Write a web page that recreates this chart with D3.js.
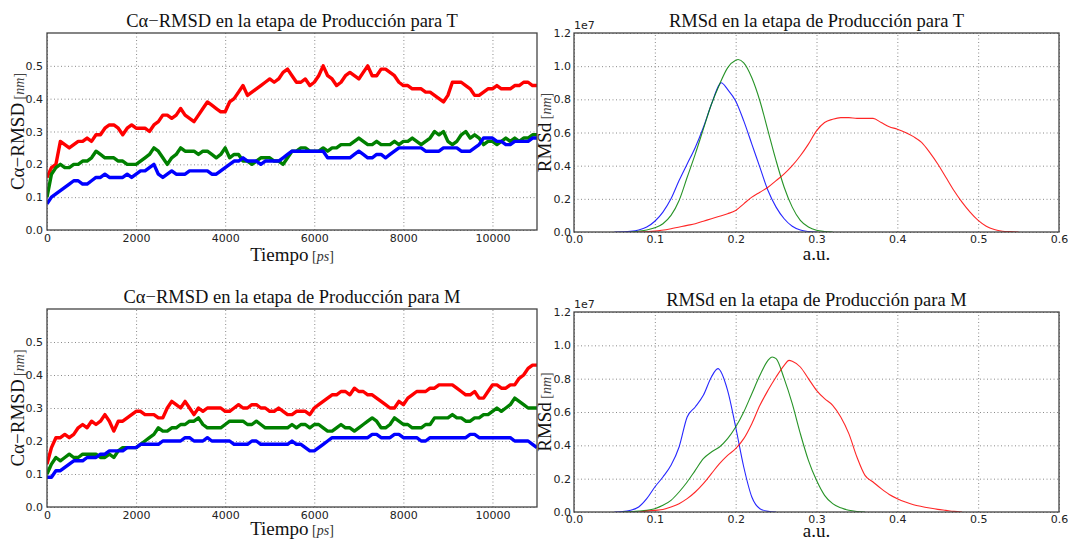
<!DOCTYPE html>
<html><head><meta charset="utf-8">
<script src="https://cdn.jsdelivr.net/npm/d3@7"></script>
<style>body{margin:0;background:#fff}</style>
</head><body><svg id="c" width="1068" height="540"></svg>
<script>
const timeTicks = [0,2000,4000,6000,8000,10000];
const rmsdTicks = [0,0.1,0.2,0.3,0.4,0.5];
const auTicks = [0,0.1,0.2,0.3,0.4,0.5,0.6];
const densTicks = [0,0.2,0.4,0.6,0.8,1.0,1.2];
const time = d3.range(0, 11001, 100);

const T_red = [0.16,0.19,0.20,0.27,0.26,0.25,0.26,0.27,0.27,0.28,
0.27,0.29,0.29,0.31,0.32,0.32,0.31,0.29,0.31,0.32,
0.31,0.31,0.31,0.30,0.32,0.33,0.35,0.35,0.34,0.35,
0.37,0.35,0.34,0.33,0.35,0.37,0.39,0.38,0.37,0.36,
0.36,0.39,0.40,0.42,0.44,0.41,0.42,0.43,0.44,0.45,
0.46,0.45,0.46,0.48,0.49,0.47,0.45,0.45,0.46,0.44,
0.45,0.47,0.50,0.47,0.46,0.44,0.45,0.47,0.48,0.47,
0.46,0.48,0.50,0.47,0.47,0.49,0.49,0.48,0.47,0.45,
0.44,0.44,0.43,0.43,0.43,0.42,0.42,0.41,0.40,0.39,
0.41,0.45,0.45,0.45,0.44,0.43,0.41,0.41,0.42,0.43,
0.43,0.44,0.43,0.43,0.43,0.44,0.44,0.45,0.45,0.44,
0.44];
const T_green = [0.10,0.17,0.19,0.20,0.19,0.19,0.20,0.20,0.21,0.21,
0.22,0.24,0.23,0.22,0.22,0.22,0.21,0.21,0.20,0.20,
0.20,0.21,0.22,0.23,0.25,0.24,0.22,0.20,0.22,0.23,
0.25,0.24,0.24,0.24,0.23,0.24,0.24,0.23,0.22,0.23,
0.25,0.22,0.23,0.23,0.21,0.21,0.20,0.21,0.22,0.22,
0.22,0.21,0.21,0.20,0.22,0.24,0.24,0.25,0.25,0.24,
0.24,0.24,0.25,0.24,0.25,0.25,0.26,0.26,0.26,0.27,
0.28,0.27,0.26,0.26,0.27,0.26,0.26,0.26,0.27,0.26,
0.27,0.27,0.28,0.27,0.26,0.27,0.28,0.30,0.29,0.30,
0.27,0.26,0.27,0.29,0.30,0.28,0.29,0.28,0.26,0.27,
0.27,0.26,0.27,0.28,0.27,0.28,0.27,0.28,0.28,0.29,
0.29];
const T_blue = [0.08,0.10,0.11,0.12,0.13,0.14,0.15,0.15,0.14,0.14,
0.15,0.16,0.16,0.17,0.16,0.16,0.16,0.16,0.17,0.16,
0.17,0.18,0.18,0.19,0.20,0.17,0.16,0.17,0.18,0.17,
0.17,0.17,0.18,0.18,0.18,0.18,0.18,0.17,0.17,0.18,
0.19,0.20,0.21,0.21,0.22,0.21,0.21,0.21,0.20,0.21,
0.21,0.21,0.21,0.22,0.23,0.24,0.24,0.24,0.24,0.24,
0.24,0.24,0.24,0.22,0.22,0.22,0.22,0.22,0.22,0.23,
0.24,0.23,0.22,0.22,0.23,0.23,0.22,0.23,0.24,0.25,
0.25,0.25,0.25,0.25,0.25,0.24,0.24,0.24,0.24,0.25,
0.25,0.25,0.25,0.24,0.24,0.24,0.25,0.26,0.28,0.28,
0.28,0.27,0.27,0.26,0.26,0.27,0.27,0.27,0.27,0.28,
0.28];

const M_red = [0.13,0.18,0.21,0.21,0.22,0.21,0.22,0.24,0.25,0.24,
0.26,0.25,0.26,0.28,0.26,0.23,0.26,0.26,0.27,0.28,
0.29,0.29,0.28,0.28,0.28,0.27,0.27,0.30,0.32,0.31,
0.30,0.32,0.30,0.28,0.30,0.29,0.30,0.30,0.30,0.30,
0.29,0.29,0.30,0.31,0.30,0.30,0.31,0.31,0.30,0.30,
0.29,0.29,0.30,0.29,0.28,0.28,0.29,0.29,0.29,0.28,
0.30,0.31,0.32,0.33,0.34,0.34,0.35,0.35,0.34,0.36,
0.35,0.35,0.34,0.34,0.33,0.32,0.31,0.30,0.30,0.32,
0.31,0.33,0.34,0.35,0.35,0.35,0.36,0.36,0.37,0.37,
0.37,0.37,0.36,0.35,0.34,0.34,0.35,0.33,0.33,0.35,
0.37,0.37,0.36,0.36,0.37,0.37,0.39,0.40,0.42,0.43,
0.43];
const M_green = [0.10,0.13,0.15,0.14,0.15,0.16,0.15,0.15,0.16,0.16,
0.16,0.16,0.15,0.15,0.16,0.15,0.17,0.18,0.18,0.18,
0.18,0.19,0.20,0.21,0.22,0.24,0.23,0.23,0.24,0.24,
0.25,0.25,0.26,0.26,0.27,0.25,0.24,0.24,0.24,0.24,
0.25,0.26,0.26,0.26,0.26,0.25,0.25,0.26,0.25,0.24,
0.24,0.24,0.24,0.24,0.24,0.25,0.24,0.25,0.25,0.24,
0.25,0.25,0.24,0.23,0.23,0.24,0.25,0.24,0.24,0.23,
0.24,0.25,0.26,0.27,0.26,0.24,0.24,0.25,0.27,0.26,
0.25,0.25,0.24,0.24,0.24,0.25,0.25,0.27,0.27,0.27,
0.27,0.28,0.27,0.27,0.26,0.26,0.27,0.27,0.28,0.28,
0.29,0.30,0.29,0.30,0.31,0.33,0.32,0.31,0.30,0.30,
0.30];
const M_blue = [0.09,0.09,0.11,0.11,0.12,0.13,0.14,0.14,0.14,0.15,
0.15,0.15,0.16,0.16,0.17,0.17,0.17,0.17,0.18,0.18,
0.18,0.19,0.19,0.19,0.19,0.19,0.20,0.20,0.20,0.20,
0.20,0.21,0.21,0.20,0.20,0.20,0.21,0.20,0.20,0.20,
0.20,0.20,0.19,0.19,0.19,0.19,0.20,0.20,0.19,0.19,
0.19,0.19,0.19,0.19,0.19,0.20,0.19,0.19,0.18,0.17,
0.17,0.18,0.19,0.20,0.21,0.21,0.21,0.21,0.21,0.21,
0.21,0.21,0.21,0.22,0.22,0.21,0.21,0.21,0.22,0.22,
0.21,0.21,0.21,0.21,0.20,0.20,0.21,0.21,0.21,0.21,
0.21,0.21,0.21,0.21,0.21,0.22,0.22,0.21,0.21,0.21,
0.21,0.21,0.21,0.21,0.21,0.20,0.20,0.20,0.20,0.19,
0.18];

// density curves (values in units of 1e7)
const dT_blue_x = [0.05,0.06,0.07,0.08,0.09,0.10,0.11,0.12,0.13,0.14,0.15,0.16,0.17,0.18,0.182,0.19,0.20,0.21,0.22,0.23,0.24,0.25,0.26,0.27,0.28,0.29,0.30];
const dT_blue_y = [0,0.001,0.004,0.012,0.03,0.065,0.12,0.2,0.31,0.41,0.51,0.63,0.77,0.89,0.90,0.86,0.79,0.67,0.53,0.39,0.25,0.15,0.08,0.035,0.012,0.003,0];
const dT_green_x = [0.07,0.08,0.09,0.10,0.11,0.12,0.13,0.14,0.15,0.16,0.17,0.18,0.19,0.20,0.203,0.21,0.22,0.23,0.24,0.25,0.26,0.27,0.28,0.29,0.30,0.31,0.32];
const dT_green_y = [0,0.005,0.012,0.025,0.05,0.1,0.19,0.33,0.47,0.62,0.77,0.89,0.99,1.035,1.04,1.02,0.93,0.79,0.61,0.43,0.27,0.15,0.07,0.03,0.01,0.003,0];
const dT_red_x = [0.08,0.10,0.12,0.14,0.15,0.16,0.17,0.18,0.19,0.20,0.21,0.22,0.23,0.24,0.25,0.26,0.27,0.28,0.29,0.30,0.31,0.32,0.33,0.34,0.35,0.36,0.37,0.38,0.39,0.40,0.41,0.42,0.43,0.44,0.45,0.46,0.47,0.48,0.49,0.50,0.51,0.52,0.53,0.54,0.55];
const dT_red_y = [0,0.005,0.02,0.04,0.05,0.065,0.08,0.095,0.11,0.13,0.17,0.21,0.24,0.27,0.31,0.35,0.40,0.46,0.53,0.61,0.66,0.68,0.69,0.69,0.685,0.685,0.685,0.66,0.635,0.62,0.60,0.575,0.54,0.48,0.41,0.33,0.25,0.18,0.12,0.07,0.035,0.015,0.005,0.002,0];

const dM_blue_x = [0.05,0.06,0.07,0.08,0.09,0.10,0.11,0.12,0.13,0.14,0.15,0.16,0.17,0.178,0.19,0.20,0.21,0.22,0.23,0.24,0.25];
const dM_blue_y = [0,0.002,0.01,0.03,0.08,0.15,0.21,0.28,0.39,0.57,0.63,0.70,0.81,0.86,0.73,0.51,0.27,0.09,0.02,0.004,0];
const dM_green_x = [0.06,0.08,0.09,0.10,0.11,0.12,0.13,0.14,0.15,0.16,0.17,0.18,0.19,0.20,0.21,0.22,0.23,0.24,0.245,0.25,0.26,0.27,0.28,0.29,0.30,0.31,0.32,0.33,0.34,0.35,0.36];
const dM_green_y = [0,0.005,0.01,0.02,0.04,0.07,0.12,0.18,0.25,0.32,0.36,0.39,0.44,0.51,0.60,0.71,0.82,0.91,0.93,0.92,0.80,0.65,0.47,0.31,0.19,0.10,0.05,0.025,0.01,0.003,0];
const dM_red_x = [0.08,0.10,0.11,0.12,0.13,0.14,0.15,0.16,0.17,0.18,0.19,0.20,0.21,0.22,0.23,0.24,0.25,0.26,0.266,0.27,0.28,0.29,0.30,0.31,0.32,0.33,0.34,0.35,0.36,0.37,0.38,0.39,0.40,0.41,0.42,0.43,0.44,0.45,0.46,0.47,0.48];
const dM_red_y = [0,0.01,0.015,0.03,0.05,0.08,0.12,0.17,0.23,0.29,0.34,0.38,0.44,0.53,0.64,0.73,0.81,0.88,0.91,0.905,0.87,0.80,0.73,0.68,0.64,0.57,0.47,0.33,0.22,0.18,0.14,0.105,0.08,0.06,0.044,0.033,0.024,0.016,0.01,0.004,0];

const colors = {red:"#ff0000", green:"#008000", blue:"#0000ff"};

const svg = d3.select("#c");
const SERIF = "'Liberation Serif','DejaVu Serif',serif";
const SANS = "'DejaVu Sans',sans-serif";

function panel(o) {
  const g = svg.append("g");
  const x = d3.scaleLinear().domain(o.xd).range([o.x0, o.x1]);
  const y = d3.scaleLinear().domain(o.yd).range([o.y1, o.y0]);
  const id = "clip" + Math.round(o.x0) + "_" + Math.round(o.y0);
  svg.append("clipPath").attr("id", id).append("rect")
    .attr("x", o.x0).attr("y", o.y0).attr("width", o.x1 - o.x0).attr("height", o.y1 - o.y0);
  // grid
  const gx = d3.axisBottom(x).tickValues(o.xt).tickSize(-(o.y1 - o.y0)).tickFormat("");
  const gy = d3.axisLeft(y).tickValues(o.yt).tickSize(-(o.x1 - o.x0)).tickFormat("");
  const gg = g.append("g");
  gg.append("g").attr("transform", `translate(0,${o.y1})`).call(gx);
  gg.append("g").attr("transform", `translate(${o.x0},0)`).call(gy);
  gg.selectAll(".domain").remove();
  gg.selectAll("line").attr("stroke", "#8a8a8a").attr("stroke-width", 1).attr("stroke-dasharray", "1,2.5");
  // tick labels
  const ax = d3.axisBottom(x).tickValues(o.xt).tickSize(0).tickPadding(o.xpad).tickFormat(o.xf);
  const ay = d3.axisLeft(y).tickValues(o.yt).tickSize(0).tickPadding(o.ypad).tickFormat(o.yf);
  const a1 = g.append("g").attr("transform", `translate(0,${o.y1})`).call(ax);
  const a2 = g.append("g").attr("transform", `translate(${o.x0},0)`).call(ay);
  [a1, a2].forEach(a => {
    a.select(".domain").remove();
    a.selectAll("text").attr("font-family", SANS).attr("font-size", 11).attr("fill", "#222");
  });
  // lines
  const lg = g.append("g").attr("clip-path", `url(#${id})`);
  o.series.forEach(s => {
    const line = d3.line().x(d => x(d[0])).y(d => y(d[1]));
    if (o.curve) line.curve(o.curve);
    lg.append("path").datum(d3.zip(s.xs, s.ys))
      .attr("d", line).attr("fill", "none")
      .attr("stroke", s.c).attr("stroke-width", o.sw)
      .attr("stroke-opacity", o.op).attr("stroke-linejoin", "round");
  });
  // frame
  g.append("rect").attr("x", o.x0).attr("y", o.y0).attr("width", o.x1 - o.x0).attr("height", o.y1 - o.y0)
    .attr("fill", "none").attr("stroke", "#444").attr("stroke-width", 1.3);
  // title
  g.append("text").attr("x", (o.x0 + o.x1) / 2).attr("y", o.titleY).attr("text-anchor", "middle")
    .attr("font-family", SERIF).attr("font-size", 18.5).attr("fill", "#111").text(o.title);
  // x label
  const xl = g.append("text").attr("x", (o.x0 + o.x1) / 2).attr("y", o.xlabY).attr("text-anchor", "middle")
    .attr("font-family", SERIF).attr("fill", "#111");
  xl.append("tspan").attr("font-size", 19).text(o.xlab);
  if (o.xunit) {
    xl.append("tspan").attr("font-size", 14).attr("fill", "#333").text("\u00a0[");
    xl.append("tspan").attr("font-size", 14).attr("font-style", "italic").attr("fill", "#333").text(o.xunit);
    xl.append("tspan").attr("font-size", 14).attr("fill", "#333").text("]");
  }
  // y label
  const cy = (o.y0 + o.y1) / 2;
  const yl = g.append("text").attr("transform", `translate(${o.ylabX},${cy}) rotate(-90)`)
    .attr("text-anchor", "middle").attr("font-family", SERIF).attr("fill", "#111");
  yl.append("tspan").attr("font-size", 19).text(o.ylab);
  yl.append("tspan").attr("font-size", 14).attr("fill", "#444").text("\u00a0[");
  yl.append("tspan").attr("font-size", 14).attr("font-style", "italic").attr("fill", "#444").text("nm");
  yl.append("tspan").attr("font-size", 14).attr("fill", "#444").text("]");
  if (o.offset) {
    g.append("text").attr("x", o.x0).attr("y", o.y0 - 4).attr("font-family", SANS)
      .attr("font-size", 11).attr("fill", "#222").text(o.offset);
  }
}

const fmt1 = d3.format(".1f");
const common = {
  left: {xd:[0,11000], yd:[0,0.6], xt:timeTicks, yt:rmsdTicks, xf:d3.format("d"), yf:fmt1,
         xpad:4, ypad:4, sw:3.4, op:1, xlab:"Tiempo", xunit:"ps", ylab:"C\u03b1\u2212RMSD", ylabX:24},
  right:{xd:[0,0.6], yd:[0,1.2], xt:auTicks, yt:densTicks, xf:fmt1, yf:fmt1,
         xpad:3, ypad:3, sw:1.1, op:0.85, xlab:"a.u.", xunit:null, ylab:"RMSd", ylabX:551,
         curve:d3.curveMonotoneX, offset:"1e7"}
};

panel(Object.assign({}, common.left, {x0:47, x1:537, y0:33, y1:230, titleY:27, xlabY:261,
  title:"C\u03b1\u2212RMSD en la etapa de Producci\u00f3n para T",
  series:[{xs:time, ys:T_red, c:colors.red},{xs:time, ys:T_green, c:colors.green},{xs:time, ys:T_blue, c:colors.blue}]}));
panel(Object.assign({}, common.right, {x0:574, x1:1059, y0:33, y1:232, titleY:27, xlabY:260,
  title:"RMSd en la etapa de Producci\u00f3n para T",
  series:[{xs:dT_blue_x, ys:dT_blue_y, c:colors.blue},{xs:dT_green_x, ys:dT_green_y, c:colors.green},{xs:dT_red_x, ys:dT_red_y, c:colors.red}]}));
panel(Object.assign({}, common.left, {x0:47, x1:537, y0:309, y1:507, titleY:303, xlabY:535,
  title:"C\u03b1\u2212RMSD en la etapa de Producci\u00f3n para M",
  series:[{xs:time, ys:M_red, c:colors.red},{xs:time, ys:M_green, c:colors.green},{xs:time, ys:M_blue, c:colors.blue}]}));
panel(Object.assign({}, common.right, {x0:574, x1:1059, y0:312, y1:512, titleY:306, xlabY:537,
  title:"RMSd en la etapa de Producci\u00f3n para M",
  series:[{xs:dM_blue_x, ys:dM_blue_y, c:colors.blue},{xs:dM_green_x, ys:dM_green_y, c:colors.green},{xs:dM_red_x, ys:dM_red_y, c:colors.red}]}));
</script>
</body></html>
